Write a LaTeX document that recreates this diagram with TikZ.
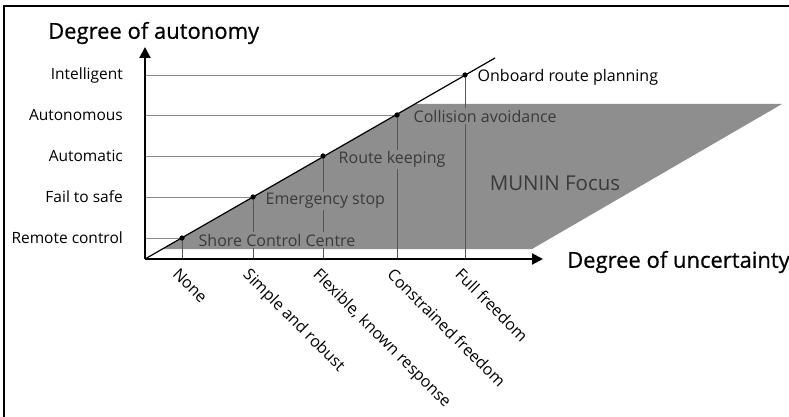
\documentclass[tikz,border=0pt]{standalone}
\usepackage{fontspec}
\setmainfont{Open Sans}
\newfontfamily\titlefont[FakeBold=0.6]{Open Sans}
\usetikzlibrary{arrows.meta}
\definecolor{focusgray}{HTML}{8E8E8E}
\definecolor{focustext}{HTML}{3A3A3A}
\definecolor{vline}{HTML}{555555}
\definecolor{gridgray}{HTML}{8A8A8A}
\tikzset{
  axisline/.style={line width=2pt, -{Triangle[length=11pt,width=11pt]}},
  gridline/.style={draw=gridgray, line width=0.7pt},
  dropline/.style={draw=vline, line width=0.7pt},
  dotnode/.style={circle, fill=black, inner sep=0pt, minimum size=5pt},
  ylab/.style={anchor=east, inner sep=0pt, font=\fontsize{15.5}{18}\selectfont},
  xlab/.style={anchor=north west, inner sep=0pt, rotate=-45, font=\fontsize{16}{18}\selectfont},
  ann/.style={anchor=west, inner sep=1.5pt, fill=focusgray, text=focustext, font=\fontsize{16}{18}\selectfont},
  bigtitle/.style={inner sep=0pt, font=\titlefont\fontsize{22}{26}\selectfont},
}
\begin{document}
\begin{tikzpicture}[x=1pt,y=-1pt]
\useasboundingbox (0,0) rectangle (789,417);
% frame (left and top only)
\draw[line width=1.5pt] (4,417) -- (4,6) -- (789,6);

% coordinates
\coordinate (O) at (145,259);
\coordinate (ytip) at (145,47);
\coordinate (xtip) at (543,259);
\coordinate (diagend) at (495,58);

% grey focus region
\fill[focusgray] (162,249) -- (415,104) -- (782,104) -- (532,249) -- cycle;

% dots
\node[dotnode] (d1) at (182,238) {};
\node[dotnode] (d2) at (253,197) {};
\node[dotnode] (d3) at (323,156) {};
\node[dotnode] (d4) at (397,115) {};
\node[dotnode] (d5) at (465,75) {};

% tick coordinates on x axis
\coordinate (t1) at (182,259);
\coordinate (t2) at (253,259);
\coordinate (t3) at (323,259);
\coordinate (t4) at (397,259);
\coordinate (t5) at (465,259);

% level coordinates on y axis
\coordinate (l1) at (145,238);
\coordinate (l2) at (145,197);
\coordinate (l3) at (145,156);
\coordinate (l4) at (145,115);
\coordinate (l5) at (145,75);

% grid lines
\draw[gridline] (l1) -- (d1.center);
\draw[gridline] (l2) -- (d2.center);
\draw[gridline] (l3) -- (d3.center);
\draw[gridline] (l4) -- (d4.center);
\draw[gridline] (l5) -- (d5.center);

% drop lines
\draw[dropline] (d1.center) -- (t1);
\draw[dropline] (d2.center) -- (t2);
\draw[dropline] (d3.center) -- (t3);
\draw[dropline] (d4.center) -- (t4);
\draw[dropline] (d5.center) -- (t5);

% diagonal
\draw[line width=1.2pt] (O) -- (diagend);
\foreach \d in {d1,d2,d3,d4,d5} \node[dotnode] at (\d) {};

% annotations
\node[ann] (a1) at (197,240) {Shore Control Centre};
\node[ann] (a2) at (264,201) {Emergency stop};
\node[ann] (a3) at (337,159) {Route keeping};
\node[ann] (a4) at (412,116) {Collision avoidance};
\node[anchor=west, inner sep=1.5pt, font=\fontsize{16}{18}\selectfont] (a5) at (476,77) {Onboard route planning};
\node[inner sep=0pt, text=focustext, font=\fontsize{20.5}{24}\selectfont] (munin) at (555,183) {MUNIN Focus};

% axes
\draw[axisline] (O) -- (ytip);
\draw[axisline] (O) -- (xtip);
\node[bigtitle, anchor=west] (ytitle) at (48,33) {Degree of autonomy};
\node[bigtitle, anchor=west] (xtitle) at (567,262) {Degree of uncertainty};

% y labels
\node[ylab] (y1) at (123,238) {Remote control};
\node[ylab] (y2) at (123,197) {Fail to safe};
\node[ylab] (y3) at (123,156) {Automatic};
\node[ylab] (y4) at (123,115) {Autonomous};
\node[ylab] (y5) at (123,75) {Intelligent};

% x labels
\node[xlab] (x1) at (180,267) {None};
\node[xlab] (x2) at (251,267) {Simple and robust};
\node[xlab] (x3) at (321,267) {Flexible, known response};
\node[xlab] (x4) at (395,267) {Constrained freedom};
\node[xlab] (x5) at (463,267) {Full freedom};
\end{tikzpicture}
\end{document}
